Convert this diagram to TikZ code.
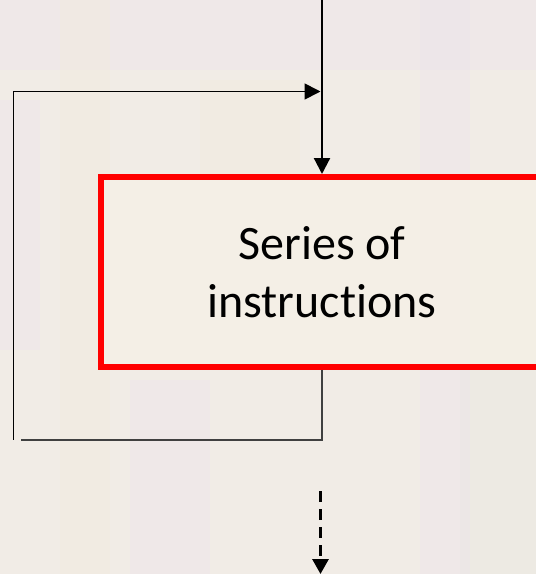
\documentclass[tikz,border=0pt]{standalone}
\usepackage{fontspec}
\setmainfont{Carlito}[Ligatures=NoCommon]
\usetikzlibrary{arrows.meta}
\definecolor{bgbase}{HTML}{F1ECE6}
\definecolor{bglav}{HTML}{ECE4EC}
\definecolor{bgwarm}{HTML}{F3EBDD}
\definecolor{bggreen}{HTML}{E8E9DF}
\definecolor{boxfill}{HTML}{F5F0E6}
\definecolor{loopgray}{HTML}{404040}
\definecolor{boxred}{HTML}{FF0000}
\tikzset{
  stepbox/.style={draw=boxred, line width=6pt, fill=boxfill, fill opacity=0.85, text opacity=1,
    minimum width=443pt, minimum height=189.5pt, inner sep=0pt, align=center,
    font=\fontsize{48pt}{58pt}\selectfont},
  flowarrow/.style={line width=2.2pt, -{Triangle[length=16pt,width=16pt]}},
  loopline/.style={line width=2pt, draw=loopgray},
  backline/.style={line width=1.8pt, -{Triangle[length=16pt,width=16pt]}},
  exitarrow/.style={line width=3pt, dash pattern=on 11pt off 7pt, -{Triangle[length=15pt,width=16pt]}},
  band/.style={opacity=0.4}
}
\begin{document}
\begin{tikzpicture}[x=1pt,y=-1pt]
  % background
  \fill[bgbase] (0,0) rectangle (536,574);
  \fill[bglav, band] (0,0) rectangle (536,70);
  \fill[bglav, band] (0,100) rectangle (40,350);
  \fill[bgwarm, band] (60,0) rectangle (110,574);
  \fill[bgwarm, band] (200,80) rectangle (300,180);
  \fill[bglav, band] (130,380) rectangle (210,574);
  \fill[bggreen, band] (460,200) rectangle (536,574);
  \fill[bglav, band] (420,0) rectangle (470,574);
  \useasboundingbox (0,0) rectangle (536,574);

  % box
  \node[stepbox] (box) at (322,271.75) {Series of\\instructions};

  % coordinates for connector ends
  \coordinate (top) at (322,0);
  \coordinate (join) at (322,91.5);
  \coordinate (lb) at (322,439.5);
  \coordinate (lbl) at (21,439.5);
  \coordinate (lleft) at (13.5,439.5);
  \coordinate (ltop) at (13.5,91.5);
  \coordinate (d1) at (320.5,491);
  \coordinate (d2) at (320.5,574);

  % connectors
  \draw[flowarrow] (top) -- (box.north);
  \draw[loopline] (box.south) -- (lb) -- (lbl);
  \draw[backline, shorten >=1.5pt] (lleft) -- (ltop) -- (join);
  \draw[exitarrow] (d1) -- (d2);
\end{tikzpicture}
\end{document}
